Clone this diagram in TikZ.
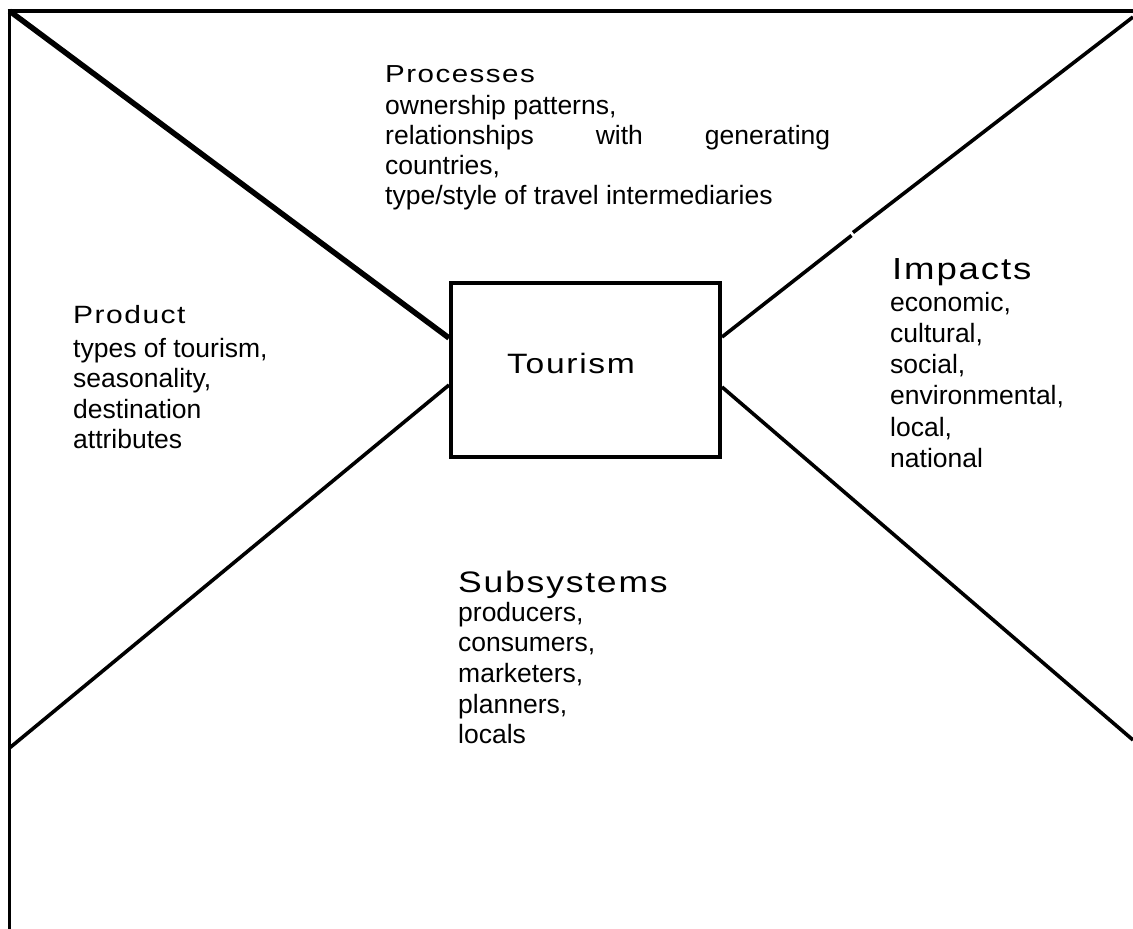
\documentclass[tikz,border=0pt]{standalone}
\usepackage{fontspec}
\setmainfont{Liberation Sans}
\newfontfamily\headfont[FakeStretch=1.2,LetterSpace=6]{Liberation Sans}
\usetikzlibrary{calc}
\tikzset{
  thinline/.style={line width=3.6pt},
  thickline/.style={line width=5.5pt},
  head/.style={anchor=base west, inner sep=0pt, font=\headfont\fontsize{#1}{#1}\selectfont},
  body/.style={anchor=base west, inner sep=0pt, font=\fontsize{26.5}{30}\selectfont},
  boxnode/.style={draw, line width=4pt, minimum width=269pt, minimum height=174pt, inner sep=0pt}
}
\begin{document}
\begin{tikzpicture}[x=1pt,y=-1pt]
\useasboundingbox (0,0) rectangle (1133,929);
% frame lines
\coordinate (tl) at (9.5,11);
\coordinate (tr) at (1133,11);
\coordinate (bl) at (9.5,929);
\coordinate (rtop) at (1133,17);
\coordinate (rbot) at (1133,740);
\coordinate (lbot) at (9.5,748);
\coordinate (rgapA) at (853,232.5);
\coordinate (rgapB) at (851.5,235.5);
\draw[thinline] ($(tl)+(-2,0)$) -- (tr);
\draw[thinline] ($(tl)+(0,-2)$) -- (bl);
% central box
\node[boxnode] (tbox) at (585.5,370) {};
\node[head=28] (tlabel) at (507,373) {Tourism};
% diagonals
\draw[thickline] (tl) -- ([yshift=32pt]tbox.west);
\draw[thinline] (lbot) -- ([yshift=-15pt]tbox.west);
\draw[thinline] (rtop) -- (rgapA);
\draw[thinline] (rgapB) -- ([yshift=33pt]tbox.east);
\draw[thinline] (rbot) -- ([yshift=-17pt]tbox.east);
% Processes
\node[head=24.6] (proch) at (385,82) {Processes};
\node[body] (procb) at (385,114) {\vtop{\baselineskip=30.3pt\lineskiplimit=-100pt
  \hbox{ownership patterns,}
  \hbox to 445pt{relationships\hfill with\hfill generating}
  \hbox{countries,}
  \hbox{type/style of travel intermediaries}}};
% Product
\node[head=25] (prodh) at (73,323) {Product};
\node[body] (prodb) at (73,357) {\vtop{\baselineskip=30.5pt\lineskiplimit=-100pt
  \hbox{types of tourism,}
  \hbox{seasonality,}
  \hbox{destination}
  \hbox{attributes}}};
% Impacts
\node[head=30.5] (imph) at (892,279) {Impacts};
\node[body] (impb) at (890,311) {\vtop{\baselineskip=31.3pt\lineskiplimit=-100pt
  \hbox{economic,}
  \hbox{cultural,}
  \hbox{social,}
  \hbox{environmental,}
  \hbox{local,}
  \hbox{national}}};
% Subsystems
\node[head=29.6] (subh) at (458,592) {Subsystems};
\node[body] (subb) at (458,621) {\vtop{\baselineskip=30.7pt\lineskiplimit=-100pt
  \hbox{producers,}
  \hbox{consumers,}
  \hbox{marketers,}
  \hbox{planners,}
  \hbox{locals}}};
\end{tikzpicture}
\end{document}
